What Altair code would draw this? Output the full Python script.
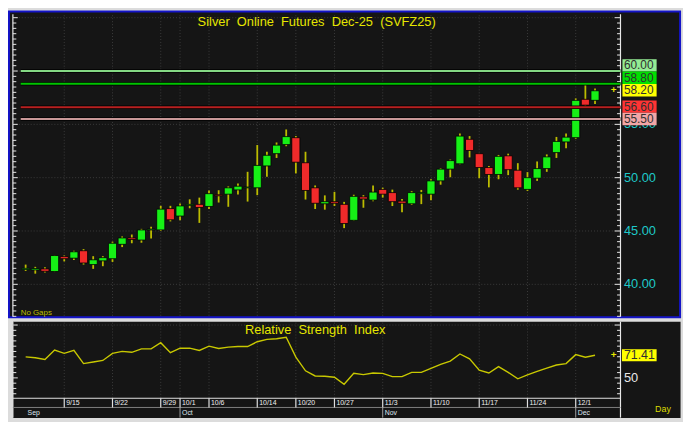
import altair as alt
import numpy as np
import pandas as pd

# ---------------- data ----------------
opens  = [41.38, 41.35, 41.45, 41.20, 42.60, 42.45, 43.15, 41.85, 42.20, 42.40,
          43.75, 44.35, 44.15, 45.10, 45.10, 47.10, 46.40, 47.40, 47.50, 47.30,
          48.40, 48.45, 48.85, 49.05, 49.05, 51.10, 52.25, 53.10, 53.75, 51.40,
          49.05, 47.55, 47.75, 47.50, 46.00, 48.20, 47.90, 48.90, 48.60, 47.80,
          47.55, 48.50, 48.45, 49.70, 50.80, 51.30, 53.60, 52.25, 50.95, 50.30,
          52.05, 50.70, 48.90, 49.95, 50.85, 52.35, 53.35, 53.75, 57.35, 57.25]
highs  = [41.85, 41.64, 41.60, 42.75, 42.70, 43.15, 43.30, 42.64, 42.64, 44.00,
          44.49, 44.67, 45.20, 45.40, 47.36, 47.36, 47.58, 47.97, 48.13, 48.79,
          48.82, 49.18, 49.45, 50.55, 53.06, 52.43, 53.30, 54.52, 53.90, 52.43,
          49.27, 48.34, 48.67, 47.73, 48.40, 48.36, 49.27, 49.06, 48.88, 48.00,
          48.73, 48.85, 49.85, 50.88, 51.70, 54.15, 53.90, 52.25, 51.09, 52.13,
          52.25, 51.36, 50.52, 51.52, 52.18, 53.82, 54.15, 57.43, 58.73, 58.36]
lows   = [41.25, 41.00, 41.10, 41.15, 42.15, 42.27, 41.85, 41.45, 41.70, 42.10,
          43.49, 43.85, 43.90, 44.30, 45.00, 45.90, 46.00, 47.13, 45.76, 47.06,
          47.67, 47.27, 48.43, 47.76, 48.36, 50.09, 51.85, 52.95, 50.40, 47.95,
          47.06, 47.00, 47.34, 45.27, 45.95, 47.18, 47.79, 48.13, 47.34, 46.76,
          47.45, 47.52, 47.88, 49.34, 50.04, 51.25, 51.90, 49.95, 49.09, 49.85,
          50.24, 48.88, 48.76, 49.70, 50.55, 51.85, 52.76, 53.64, 56.58, 56.90]
closes = [41.50, 41.48, 41.22, 42.70, 42.40, 43.05, 42.00, 42.30, 42.50, 43.85,
          44.35, 44.20, 45.10, 45.18, 47.05, 46.05, 47.35, 47.50, 47.20, 48.50,
          48.30, 49.05, 49.20, 49.12, 51.15, 52.10, 53.05, 53.85, 51.45, 48.80,
          47.60, 47.75, 47.60, 45.70, 48.25, 48.00, 48.65, 48.45, 47.75, 47.60,
          48.60, 48.60, 49.70, 50.80, 51.60, 53.90, 52.55, 50.95, 50.30, 52.00,
          50.75, 49.05, 50.00, 50.85, 51.95, 53.40, 53.80, 57.25, 56.80, 58.15]
rsi_values = [69.9, 69.0, 67.4, 76.3, 73.2, 76.0, 63.5, 65.0, 66.5, 73.2,
              75.1, 74.2, 77.5, 77.5, 83.3, 73.9, 78.1, 78.1, 76.0, 80.0,
              77.8, 79.1, 79.7, 79.7, 84.2, 86.4, 87.0, 88.5, 69.6, 56.7,
              51.8, 51.5, 50.6, 43.9, 54.3, 53.1, 54.6, 54.3, 51.2, 51.2,
              55.2, 55.2, 58.9, 62.8, 65.9, 72.6, 68.0, 57.3, 54.6, 60.7,
              55.2, 49.1, 52.8, 56.1, 59.2, 62.2, 63.5, 72.0, 69.6, 71.41]

date_labels = ["9/15", "9/22", "9/29", "10/1", "10/6", "10/14", "10/20",
               "10/27", "11/3", "11/10", "11/17", "11/24", "12/1"]
date_index = [4, 9, 14, 16, 19, 24, 28, 32, 37, 42, 47, 52, 57]
month_labels = ["Sep", "Oct", "Nov", "Dec"]
month_index = [0, 16, 37, 57]

price_ticks = [40, 45, 50, 55]          # 60.00 axis label is hidden behind its tag
grid_levels = [40, 45, 50, 55, 60, 65]
level_values = [60.0, 58.8, 56.6, 55.5]
level_colors = ["#84d884", "#00c400", "#b82020", "#c89898"]
tag_values = [60.0, 58.8, 58.2, 56.6, 55.5]
tag_fills = ["#94ec94", "#00e000", "#ffff00", "#ff3434", "#f2a6a6"]
last_price = 58.20
last_rsi = 71.41
rsi_label_values = [50]

title_text = "Silver\u00a0 Online\u00a0 Futures\u00a0 Dec-25\u00a0 (SVFZ25)"
rsi_title = "Relative\u00a0 Strength\u00a0 Index"

# ---------------- geometry ----------------
W_REF, H_REF = 691, 422
CW, CH = 683, 414
SX, SY = CW / W_REF, CH / H_REF


def X(v):
    return v * SX


def Y(v):
    return v * SY


FONT = "Liberation Sans"
BG = "#151515"
BLUE = "#1414c8"
GRID = "#3c3c3c"
AXIS = "#e8e8e8"
GREEN = "#16f016"
RED = "#f02a2a"
WICK = "#bcbc00"
CYAN = "#1ec8c8"
YELLOW = "#e6e600"
RSI_COL = "#c8c800"

XS = alt.Scale(domain=[0, 59], range=[X(13), X(606)], nice=False, zero=False)
YS = alt.Scale(domain=[40, 60], range=[Y(282.5), Y(62.5)], nice=False, zero=False)
RS = alt.Scale(domain=[50, 100], range=[Y(379), Y(324.5)], nice=False, zero=False)


def xi(field="idx"):
    return alt.X(f"{field}:Q", scale=XS, axis=None)


def yp(field):
    return alt.Y(f"{field}:Q", scale=YS, axis=None)


def yr(field):
    return alt.Y(f"{field}:Q", scale=RS, axis=None)


def dummy():
    return pd.DataFrame({"d": [0]})


def vrect(x1, x2, y1, y2, **kw):
    return alt.Chart(dummy()).mark_rect(**kw).encode(
        x=alt.value(X(x1)), x2=alt.value(X(x2)), y=alt.value(Y(y1)), y2=alt.value(Y(y2)))


def hrule(x1, x2, y, **kw):
    return alt.Chart(dummy()).mark_rule(**kw).encode(
        x=alt.value(X(x1)), x2=alt.value(X(x2)), y=alt.value(Y(y)))


def vrule(x, y1, y2, **kw):
    return alt.Chart(dummy()).mark_rule(**kw).encode(
        x=alt.value(X(x)), y=alt.value(Y(y1)), y2=alt.value(Y(y2)))


def label(text, x, y, **kw):
    return alt.Chart(dummy()).mark_text(text=text, font=FONT, **kw).encode(
        x=alt.value(X(x)), y=alt.value(Y(y)))


# ---------------- tables ----------------
n = len(closes)
candles = pd.DataFrame({"idx": list(range(n)), "open": opens, "high": highs,
                        "low": lows, "close": closes})
candles["fill"] = np.where(candles["close"] >= candles["open"], GREEN, RED)

rsi_df = pd.DataFrame({"idx": list(range(n)), "rsi": rsi_values})
dates = pd.DataFrame({"idx": date_index, "lab": date_labels})
months = pd.DataFrame({"idx": month_index, "lab": month_labels})
levels = pd.DataFrame({"v": level_values, "color": level_colors})
plabels = pd.DataFrame({"v": price_ticks, "lab": [f"{v:.2f}" for v in price_ticks]})

# tag boxes stacked so they do not overlap
tag_h = 12.8 / 11.0
order = sorted(range(len(tag_values)), key=lambda k: tag_values[k])
pos = [0.0] * len(tag_values)
prev = -1e9
for k in order:
    p = max(tag_values[k], prev + tag_h)
    pos[k] = p
    prev = p
tags = pd.DataFrame({"v": tag_values, "pos": pos,
                     "lo": [p - tag_h / 2 for p in pos],
                     "hi": [p + tag_h / 2 for p in pos],
                     "lab": [f"{v:.2f}" for v in tag_values],
                     "fill": tag_fills})

rsi_h = 12.6 / 1.09
rsi_tag = pd.DataFrame({"v": [last_rsi], "lo": [last_rsi - rsi_h / 2],
                        "hi": [last_rsi + rsi_h / 2], "lab": [f"{last_rsi:.2f}"]})

main_ticks = np.round(np.arange(37.0, 65.01, 0.5), 2)
main_minor = pd.DataFrame({"v": [t for t in main_ticks if t % 5 != 0]})
main_major = pd.DataFrame({"v": [t for t in main_ticks if t % 5 == 0]})
rsi_ticks = list(range(35, 101, 5))
rsi_minor = pd.DataFrame({"v": [t for t in rsi_ticks if t not in (50, 100)]})
rsi_major = pd.DataFrame({"v": [50, 100]})

# ---------------- layers ----------------
backgrounds = [
    vrect(1, 688, 1, 316.5, fill=BG, stroke=BLUE, strokeWidth=2),
    vrect(5, 688.5, 321, 420.5, fill=BG),
]

vgrids = [
    alt.Chart(dates).mark_rule(color=GRID, strokeDash=[1, 2]).encode(
        x=xi(), y=alt.value(Y(5)), y2=alt.value(Y(316))),
    alt.Chart(dates).mark_rule(color=GRID, strokeDash=[1, 2]).encode(
        x=xi(), y=alt.value(Y(322)), y2=alt.value(Y(400))),
]

axis_lines = [
    vrule(5, 4, 316, color=AXIS, strokeWidth=1.2),
    vrule(627, 4, 316, color=AXIS, strokeWidth=1.2),
    vrule(5, 321, 420, color=AXIS, strokeWidth=1.2),
    vrule(627, 321, 420, color=AXIS, strokeWidth=1.2),
]

main_group = alt.layer(
    alt.Chart(pd.DataFrame({"v": grid_levels})).mark_rule(
        color=GRID, strokeDash=[1, 2]).encode(
        y=yp("v"), x=alt.value(X(5)), x2=alt.value(X(627))),
    alt.Chart(main_minor).mark_rule(color=AXIS).encode(
        y=yp("v"), x=alt.value(X(5)), x2=alt.value(X(8.5))),
    alt.Chart(main_major).mark_rule(color=AXIS).encode(
        y=yp("v"), x=alt.value(X(5)), x2=alt.value(X(10))),
    alt.Chart(main_minor).mark_rule(color=AXIS).encode(
        y=yp("v"), x=alt.value(X(623.5)), x2=alt.value(X(627))),
    alt.Chart(main_major).mark_rule(color=AXIS).encode(
        y=yp("v"), x=alt.value(X(621)), x2=alt.value(X(627))),
    alt.Chart(candles).mark_rule(color=WICK, strokeWidth=1.8).encode(
        x=xi(), y=yp("low"), y2=alt.Y2("high")),
    alt.Chart(candles).mark_bar(size=8.2, stroke="#000000", strokeWidth=0.8).encode(
        x=xi(), y=yp("open"), y2=alt.Y2("close"),
        color=alt.Color("fill:N", scale=None)),
    alt.Chart(levels).mark_rule(color="#000000", strokeWidth=3.6).encode(
        y=yp("v"), x=alt.value(X(13)), x2=alt.value(X(627))),
    alt.Chart(levels).mark_rule(strokeWidth=2).encode(
        y=yp("v"), x=alt.value(X(13)), x2=alt.value(X(627)),
        color=alt.Color("color:N", scale=None)),
    alt.Chart(plabels).mark_text(align="left", baseline="middle", font=FONT,
                                 fontSize=13, color=CYAN).encode(
        y=yp("v"), x=alt.value(X(630.5)), text="lab:N"),
    alt.Chart(tags).mark_rect().encode(
        y=yp("lo"), y2=alt.Y2("hi"), x=alt.value(X(629)), x2=alt.value(X(664)),
        color=alt.Color("fill:N", scale=None)),
    alt.Chart(tags).mark_text(align="left", baseline="middle", font=FONT,
                              fontSize=12, color="#303030").encode(
        y=yp("pos"), x=alt.value(X(630.5)), text="lab:N"),
    alt.Chart(pd.DataFrame({"v": [last_price]})).mark_text(
        text="+", font=FONT, fontSize=10, fontWeight="bold", color=YELLOW,
        baseline="middle").encode(y=yp("v"), x=alt.value(X(620))),
)

rsi_group = alt.layer(
    alt.Chart(pd.DataFrame({"v": [100]})).mark_rule(
        color=GRID, strokeDash=[1, 2]).encode(
        y=yr("v"), x=alt.value(X(5)), x2=alt.value(X(627))),
    alt.Chart(rsi_minor).mark_rule(color=AXIS).encode(
        y=yr("v"), x=alt.value(X(5)), x2=alt.value(X(8.5))),
    alt.Chart(rsi_major).mark_rule(color=AXIS).encode(
        y=yr("v"), x=alt.value(X(5)), x2=alt.value(X(10))),
    alt.Chart(rsi_minor).mark_rule(color=AXIS).encode(
        y=yr("v"), x=alt.value(X(623.5)), x2=alt.value(X(627))),
    alt.Chart(rsi_major).mark_rule(color=AXIS).encode(
        y=yr("v"), x=alt.value(X(621)), x2=alt.value(X(627))),
    alt.Chart(rsi_df).mark_line(color=RSI_COL, strokeWidth=1.4).encode(
        x=xi(), y=yr("rsi")),
    alt.Chart(pd.DataFrame({"v": rsi_label_values})).mark_text(
        align="left", baseline="middle", font=FONT, fontSize=13,
        color="#e8e8e8").encode(y=yr("v"), x=alt.value(X(630.5)),
                                text=alt.Text("v:Q", format="d")),
    alt.Chart(rsi_tag).mark_rect(color="#ffff00").encode(
        y=yr("lo"), y2=alt.Y2("hi"), x=alt.value(X(628.5)), x2=alt.value(X(664))),
    alt.Chart(rsi_tag).mark_text(align="left", baseline="middle", font=FONT,
                                 fontSize=12.5, color="#303030").encode(
        y=yr("v"), x=alt.value(X(630.5)), text="lab:N"),
    alt.Chart(rsi_tag).mark_text(text="+", font=FONT, fontSize=10,
                                 fontWeight="bold", color=YELLOW,
                                 baseline="middle").encode(
        y=yr("v"), x=alt.value(X(620))),
)

bottom_rows = [
    hrule(5, 627, 400, color="#e0e0e0", strokeWidth=1.2),
    hrule(5, 627, 409.5, color="#808080"),
    alt.Chart(dates).mark_rule(color="#e0e0e0", strokeWidth=1.2).encode(
        x=xi(), y=alt.value(Y(400)), y2=alt.value(Y(409.5))),
    alt.Chart(months[months["idx"] > 0]).mark_rule(color="#a0a0a0").encode(
        x=xi(), y=alt.value(Y(409.5)), y2=alt.value(Y(420))),
    alt.Chart(dates).mark_text(align="left", baseline="middle", dx=2, font=FONT,
                               fontSize=7, color="#f0f0f0").encode(
        x=xi(), y=alt.value(Y(405.2)), text="lab:N"),
    alt.Chart(months).mark_text(align="left", baseline="middle", dx=2, font=FONT,
                                fontSize=7, color="#dfe6f0").encode(
        x=xi(), y=alt.value(Y(414.8)), text="lab:N"),
]

texts = [
    label(title_text, 316, 11.5, fontSize=13, color=YELLOW, align="center",
          baseline="middle"),
    label(rsi_title, 314.5, 330, fontSize=13, color=YELLOW, align="center",
          baseline="middle"),
    label("No Gaps", 13, 312, fontSize=8, color=WICK, align="left",
          baseline="middle"),
    label("Day", 670.5, 411, fontSize=9, color="#dcdc00", align="center",
          baseline="middle"),
]

chart = alt.layer(
    *backgrounds, *vgrids, *axis_lines, main_group, rsi_group, *bottom_rows, *texts
).resolve_scale(
    y="independent"
).properties(
    width=CW, height=CH, padding=0,
    autosize=alt.AutoSizeParams(type="none"),
    background="#dcdcdc",
).configure_view(stroke=None)

chart.save("out.html", embed_options={"renderer": "svg", "actions": False})
